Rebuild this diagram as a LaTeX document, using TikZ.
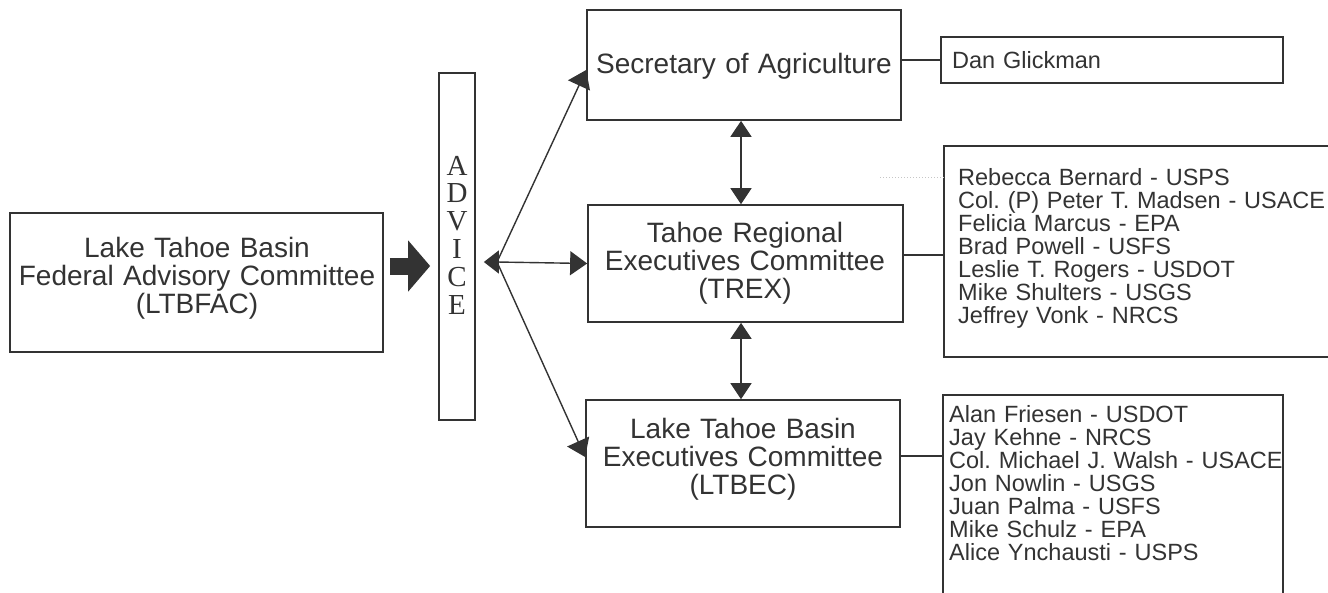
\documentclass[tikz,border=0pt]{standalone}
\usepackage{fontspec}
\setmainfont{Liberation Sans}
\newfontfamily\advserif{Liberation Serif}
\usetikzlibrary{arrows.meta,calc}
\definecolor{ink}{HTML}{333333}
\begin{document}
\lineskiplimit=-30pt
\frenchspacing
\begin{tikzpicture}[x=1pt,y=-1pt,
  box/.style={draw=ink, line width=1.7pt, rectangle, inner sep=0pt},
  conn/.style={draw=ink, line width=1.4pt},
  arr/.style={-{Triangle[length=17pt 0 0,width=24pt 0 0]}},
  dbl/.style={{Triangle[length=16pt 0 0,width=21pt 0 0]}-{Triangle[length=16pt 0 0,width=21pt 0 0]}},
  maintext/.style={font=\fontsize{28}{28}\selectfont, text=ink, align=center, text width=380pt, inner sep=0pt, anchor=base},
  memtext/.style={font=\fontsize{23.5}{23}\selectfont, text=ink, align=left, text width=380pt, inner sep=0pt, anchor=base west},
  advtext/.style={font=\advserif\fontsize{29}{27.8}\selectfont, text=ink, align=center, text width=30pt, inner sep=0pt, anchor=base}
]
\useasboundingbox (0,0) rectangle (1328,592);
\fill[white] (0,0) rectangle (1328,592);
\clip (0,0) rectangle (1328,592);

% boxes
\node[box, minimum width=373pt, minimum height=139pt] (ltbfac) at (196.5,282.5) {};
\node[box, minimum width=36pt, minimum height=347pt] (advice) at (457,246.5) {};
\node[box, minimum width=314pt, minimum height=110pt] (sec) at (744,65) {};
\node[box, minimum width=315pt, minimum height=117pt] (trex) at (745.5,263.5) {};
\node[box, minimum width=314pt, minimum height=127pt] (ltbec) at (743,463.5) {};
\node[box, minimum width=342pt, minimum height=46pt] (dan) at (1112,60) {};
\node[box, minimum width=400pt, minimum height=211pt] (trexm) at (1144,251.5) {};
\node[box, minimum width=340pt, minimum height=240pt] (ltbecm) at (1113,515) {};

% texts
\node[maintext] (ltbfacT) at (197,257) {Lake Tahoe Basin\\Federal Advisory Committee\\(LTBFAC)};
\node[advtext] (adviceT) at (457,175) {A\\D\\V\\I\\C\\E};
\node[maintext] (secT) at (744,73) {Secretary of Agriculture};
\node[maintext] (trexT) at (745,242) {Tahoe Regional\\Executives Committee\\(TREX)};
\node[maintext] (ltbecT) at (743,438) {Lake Tahoe Basin\\Executives Committee\\(LTBEC)};
\node[memtext] (danT) at (952,68) {Dan Glickman};
\node[memtext] (trexmT) at (958,185) {Rebecca Bernard - USPS\\Col. (P) Peter T. Madsen - USACE\\Felicia Marcus - EPA\\Brad Powell - USFS\\Leslie T. Rogers - USDOT\\Mike Shulters - USGS\\Jeffrey Vonk - NRCS};
\node[memtext] (ltbecmT) at (949,422) {Alan Friesen - USDOT\\Jay Kehne - NRCS\\Col. Michael J. Walsh - USACE\\Jon Nowlin - USGS\\Juan Palma - USFS\\Mike Schulz - EPA\\Alice Ynchausti - USPS};

% thick arrow
\draw[draw=ink, line width=17pt, -{Triangle[length=22pt 0 0,width=50pt 0 0]}, shorten <=6pt, shorten >=8pt]
  ([yshift=16.5pt]ltbfac.east) -- ([yshift=16.5pt]ltbfac.east -| advice.west);

% fork
\coordinate (fork) at (497,262);
\coordinate (dx) at (741,0);
\draw[conn, -{Triangle[length=15pt 0 0,width=23pt 0 0]}, shorten >=8pt] (fork) -- (fork -| advice.east);
\draw[conn, arr] (fork) -- ([yshift=-5pt]sec.west);
\draw[conn, arr] (fork) -- (trex.west);
\draw[conn, arr] (fork) -- ([yshift=6.5pt]ltbec.west);

% double arrows
\draw[conn, dbl] (sec.south -| dx) -- (trex.north -| dx);
\draw[conn, dbl] (trex.south -| dx) -- (ltbec.north -| dx);

% member links
\draw[conn] (dan.west -| sec.east) -- (dan.west);
\draw[conn] ([yshift=8.5pt]trex.east) -- ([yshift=8.5pt]trex.east -| trexm.west);
\draw[conn] ([yshift=7.5pt]ltbec.east) -- ([yshift=7.5pt]ltbec.east -| ltbecm.west);
\draw[gray!45, line width=1pt, dotted] (880,177) -- (880,177 -| trexm.west);
\end{tikzpicture}
\end{document}
